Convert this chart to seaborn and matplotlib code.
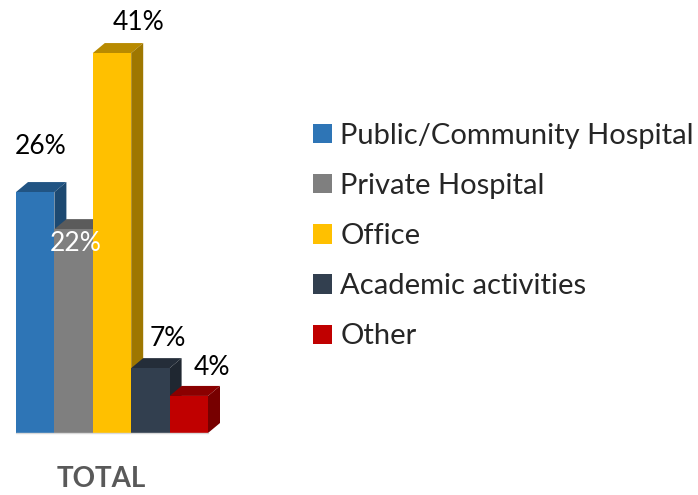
import numpy as np
import seaborn as sns
import matplotlib.pyplot as plt
from matplotlib.patches import Polygon
import matplotlib.colors as mcolors

# --- DATA ---
categories = ["Public/Community Hospital", "Private Hospital", "Office",
              "Academic activities", "Other"]
values = [26, 22, 41, 7, 4]
labels = ["26%", "22%", "41%", "7%", "4%"]
colors = ["#2E75B6", "#7F7F7F", "#FFC000", "#323F4F", "#C00000"]
label_colors = ["black", "white", "black", "black", "black"]
group_label = "TOTAL"


def shade(c, f):
    r, g, b = mcolors.to_rgb(c)
    return (r * f, g * f, b * f)


def main():
    sns.set_theme(style="white")
    plt.rcParams["font.family"] = ["Lato", "DejaVu Sans"]

    W, H = 698, 495
    fig = plt.figure(figsize=(W / 100, H / 100), dpi=100)
    # axes in pixel terms: x 16..208, baseline at y=433, 45% at top
    ax = fig.add_axes([16 / W, (H - 433) / H, 192 / W, 417 / H])

    sns.barplot(x=categories, y=values, hue=categories, palette=colors,
                width=1, saturation=1, legend=False, ax=ax, linewidth=0)
    ax.set_xlim(-0.5, 4.5)
    ax.set_ylim(0, 45)
    ax.axis("off")

    # depth offset in data units (12 px right, 10 px up)
    dx = 12 / (192 / 5)
    dy = 10 / (417 / 45)

    for i, p in enumerate(ax.patches[:len(values)]):
        x0 = p.get_x()
        x1 = x0 + p.get_width()
        h = p.get_height()
        c = colors[i]
        top = Polygon([(x0, h), (x0 + dx, h + dy), (x1 + dx, h + dy), (x1, h)],
                      closed=True, facecolor=shade(c, 0.72), edgecolor="none",
                      clip_on=False, zorder=p.get_zorder() - 0.1)
        side = Polygon([(x1, 0), (x1, h), (x1 + dx, h + dy), (x1 + dx, dy)],
                       closed=True, facecolor=shade(c, 0.62), edgecolor="none",
                       clip_on=False, zorder=p.get_zorder() - 0.1)
        ax.add_patch(top)
        ax.add_patch(side)

    # value labels
    label_pos = [(0.15, 30.9), (1.05, 20.5), (2.7, 44.3), (3.45, 10.2), (4.6, 7.1)]
    for (lx, ly), txt, tc in zip(label_pos, labels, label_colors):
        ax.text(lx, ly, txt, ha="center", va="center", fontsize=19,
                color=tc, clip_on=False)

    # faint baseline
    ax.plot([-0.5, 4.5], [0, 0], color="#D9D9D9", lw=1, clip_on=False)

    ax.text(1.72, -5.0, group_label, ha="center", va="center", fontsize=20,
            fontweight="bold", color="#595959", clip_on=False)

    handles = ax.patches[:len(values)]
    fig.legend(handles, categories, loc="upper left",
               bbox_to_anchor=(301 / W, 1 - 111 / H), frameon=False,
               fontsize=21, handlelength=0.65, handleheight=0.65,
               handletextpad=0.3, labelspacing=0.83, borderaxespad=0)

    fig.savefig("out.png", dpi=100, facecolor="white")
    plt.close(fig)


if __name__ == "__main__":
    main()
